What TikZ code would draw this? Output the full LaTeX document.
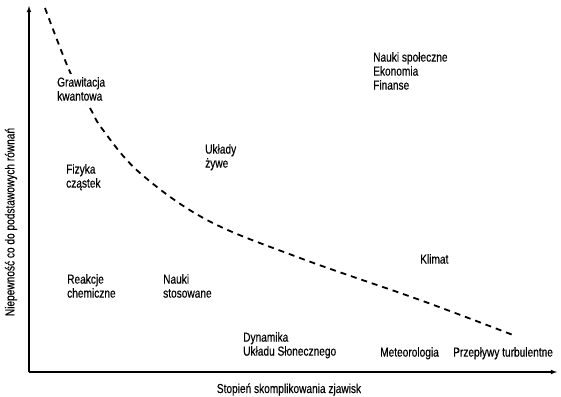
\documentclass[tikz,border=0pt]{standalone}
\usepackage{fontspec}
\setmainfont[FakeStretch=0.78, FakeBold=0.3]{Liberation Sans}
\tikzset{>=latex}
\tikzset{lbl/.style={anchor=north west, inner sep=3pt, align=left, font=\fontsize{13}{14}\selectfont}}

\begin{document}
\begin{tikzpicture}[x=1pt,y=-1pt]
        \useasboundingbox (0,0) rectangle (561,396);
        \coordinate (o) at (29,372);
        \coordinate (ytop) at (29,6);
        \coordinate (xend) at (557,372);

        % axes
        \draw[->, line width=1.1pt] (o) -- (ytop);
        \draw[->, line width=1.1pt] (o) -- (xend);

        % boundary curve
        \draw[line width=1.8pt, dash pattern=on 6pt off 5pt] plot[smooth, tension=0.6] coordinates
            {(45,8) (70,72) (90,108) (103,130) (140,173) (207,220) (300,258) (420,300) (513,335)};

        \node[lbl, fill=white] (graw) at (54,74) {Grawitacja\\kwantowa};
        \node[lbl] (fiz) at (63,161) {Fizyka\\cząstek};
        \node[lbl] (zywe) at (202,141) {Układy\\żywe};
        \node[lbl] (chem) at (64,271) {Reakcje\\chemiczne};
        \node[lbl] (stos) at (160,271) {Nauki\\stosowane};
        \node[lbl] (spol) at (370,49) {Nauki społeczne\\Ekonomia\\Finanse};
        \node[lbl] (klimat) at (417,251) {Klimat};
        \node[lbl] (dyn) at (240,329) {Dynamika\\Układu Słonecznego};
        \node[lbl] (meteo) at (377,344) {Meteorologia};
        \node[lbl] (turb) at (450,344) {Przepływy turbulentne};

        \node[anchor=base, inner sep=0pt, font=\fontsize{13}{14}\selectfont] (xlab) at (289,393)
            {Stopień skomplikowania zjawisk};
        \node[rotate=90, inner sep=0pt, font=\fontsize{13}{14}\selectfont] (ylab) at (11,222)
            {Niepewność co do podstawowych równań};
\end{tikzpicture}
\end{document}
